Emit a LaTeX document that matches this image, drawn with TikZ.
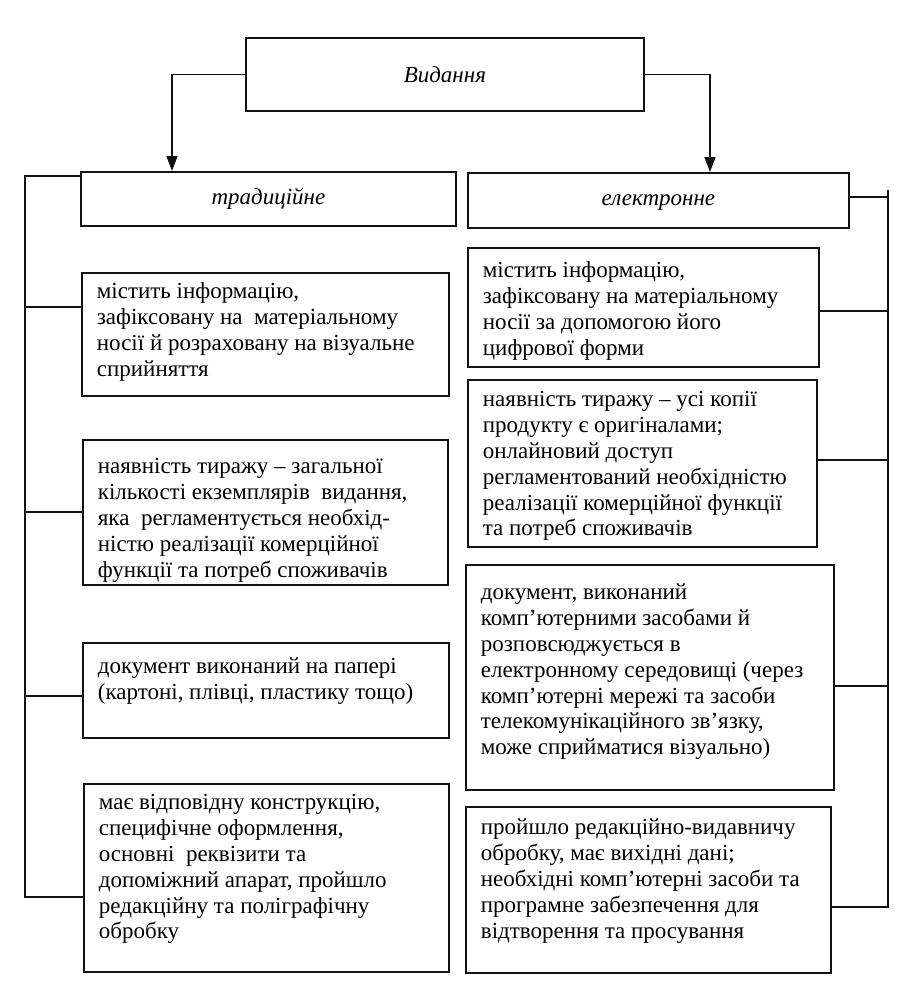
\documentclass[tikz,border=0pt]{standalone}
\usepackage{fontspec}
\setmainfont{Liberation Serif}
\usetikzlibrary{arrows.meta,calc}
\definecolor{ink}{HTML}{111111}
\newcommand{\cellfont}{\fontsize{23pt}{25.8pt}\selectfont}
\tikzset{
  headbox/.style={draw=ink,line width=1.8pt,anchor=north west,
                  inner sep=0pt,font=\cellfont\itshape},
  cellbox/.style={draw=ink,line width=1.8pt,anchor=north west,
                  inner sep=0pt,align=left,font=\cellfont},
  busline/.style={draw=ink,line width=1.5pt},
  downarr/.style={-{Triangle[length=15pt,width=11pt]},line width=1.5pt,draw=ink}
}
% text block of a cell: width, height, top gap, lines
\newcommand{\cellpar}[4]{\parbox[c][#2][t]{#1}{\leftskip=15pt\rightskip=0pt plus 1fil
  \vspace*{#3}\strut#4}}

\begin{document}
\begin{tikzpicture}[x=1pt,y=-1pt]
  \useasboundingbox[fill=white] (0,0) rectangle (918,986);

  % heads
  \node[headbox,minimum width=398,minimum height=73] (top) at (245,37) {Видання};
  \node[headbox,minimum width=375,minimum height=54] (trad) at (80,171) {традиційне};
  \node[headbox,minimum width=381,minimum height=55] (elec) at (467,172) {електронне\strut};

  \draw[downarr] (top.west) -| ([xshift=92pt]trad.north west);
  \draw[downarr] (top.east) -| ([xshift=243pt]elec.north west);

  % left column
  \node[cellbox] (L1) at (81,272) {\cellpar{367pt}{123pt}{8pt}{містить інформацію,\\
    зафіксовану на \ матеріальному\\ носії й розраховану на візуальне\\ сприйняття}};
  \node[cellbox] (L2) at (82,439) {\cellpar{365pt}{145pt}{16pt}{наявність тиражу – загальної\\
    кількості екземплярів \ видання,\\ яка \ регламентується необхід-\\
    ністю реалізації комерційної\\ функції та потреб споживачів}};
  \node[cellbox] (L3) at (82,642) {\cellpar{366pt}{95pt}{13pt}{документ виконаний на папері\\
    (картоні, плівці, пластику тощо)}};
  \node[cellbox] (L4) at (83,783) {\cellpar{365pt}{188pt}{8pt}{має відповідну конструкцію,\\
    специфічне оформлення,\\ основні \ реквізити та\\ допоміжний апарат, пройшло\\
    редакційну та поліграфічну\\ обробку}};

  % right column
  \node[cellbox] (R1) at (467,247) {\cellpar{351pt}{119pt}{12pt}{містить інформацію,\\
    зафіксовану на матеріальному\\ носії за допомогою його\\ цифрової форми}};
  \node[cellbox] (R2) at (467,379) {\cellpar{349pt}{167pt}{9pt}{наявність тиражу – усі копії\\
    продукту є оригіналами;\\ онлайновий доступ\\ регламентований необхідністю\\
    реалізації комерційної функції\\ та потреб споживачів}};
  \node[cellbox] (R3) at (465,564) {\cellpar{368pt}{225pt}{17pt}{документ, виконаний\\
    комп’ютерними засобами й\\ розповсюджується в\\ електронному середовищі (через\\
    комп’ютерні мережі та засоби\\ телекомунікаційного зв’язку,\\ може сприйматися візуально)}};
  \node[cellbox] (R4) at (465,806) {\cellpar{365pt}{166pt}{10pt}{пройшло редакційно-видавничу\\
    обробку, має вихідні дані;\\ необхідні комп’ютерні засоби та\\ програмне забезпечення для\\
    відтворення та просування}};

  % left bus
  \coordinate (ltop) at (25,176);
  \coordinate (lbot) at (25,897);
  \draw[busline] (trad.west |- ltop) -- (ltop) -- (lbot) -- (L4.west |- lbot);
  \foreach \n/\y in {L1/307,L2/512,L3/696}
    \draw[busline] (ltop |- 0,\y) -- (\n.west |- 0,\y);

  % right bus
  \coordinate (rtop) at (888,190);
  \coordinate (rbot) at (888,907);
  \draw[busline] (elec.east |- 0,197) -- (rtop |- 0,197);
  \draw[busline] (rtop) -- (rbot) -- (R4.east |- rbot);
  \foreach \n/\y in {R1/311,R2/460,R3/686}
    \draw[busline] (rtop |- 0,\y) -- (\n.east |- 0,\y);
\end{tikzpicture}
\end{document}
